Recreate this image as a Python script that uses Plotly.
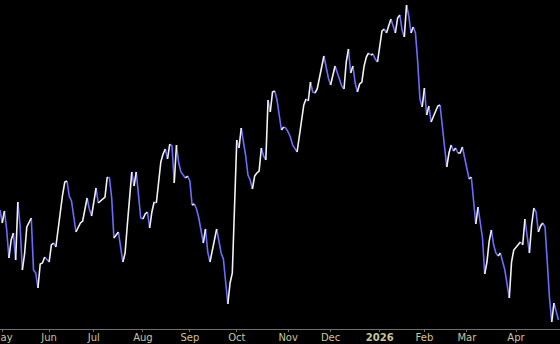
import pandas as pd
import plotly.graph_objects as go

# ---- data ----
start_date = "2025-04-30"
end_date = "2026-04-29"
holidays = ["2025-05-26", "2025-06-19", "2025-07-04", "2025-09-01", "2025-11-27",
            "2025-12-25", "2026-01-01", "2026-01-19", "2026-02-16", "2026-04-03"]

values = [
    190, 177, 189, 170, 142, 160, 167, 140, 198, 174,
    130, 146, 173, 177, 182, 130, 127, 112, 136, 137,
    143, 140, 138, 155, 157, 153, 171, 190, 205, 218,
    219, 204, 199, 184, 168, 173, 177, 179, 191, 202,
    191, 184, 199, 212, 197, 199, 201, 203, 223, 222,
    202, 162, 165, 168, 154, 138, 147, 175, 202, 228,
    214, 228, 205, 182, 181, 186, 188, 172, 188, 198,
    197, 218, 238, 246, 251, 241, 256, 254, 217, 255,
    237, 228, 225, 222, 224, 219, 195, 196, 191, 182,
    170, 157, 171, 148, 138, 148, 160, 171, 158, 147,
    141, 120, 96, 117, 127, 187, 260, 252, 272, 258,
    244, 225, 220, 211, 224, 227, 229, 252, 244, 240,
    300, 288, 308, 309, 300, 285, 270, 273, 272, 268,
    263, 255, 251, 248, 263, 280, 295, 301, 299, 318,
    308, 307, 311, 322, 332, 344, 331, 322, 315, 325,
    334, 327, 320, 314, 311, 338, 351, 327, 334, 317,
    308, 316, 318, 334, 343, 347, 345, 346, 341, 338,
    354, 369, 371, 367, 373, 381, 374, 367, 382, 385,
    370, 363, 395, 384, 367, 373, 367, 338, 301, 293,
    312, 285, 294, 278, 283, 289, 294, 295, 274, 260,
    233, 247, 255, 249, 252, 247, 247, 253, 243, 230,
    221, 223, 200, 176, 193, 177, 162, 126, 138, 159,
    170, 155, 147, 144, 147, 137, 130, 116, 102, 138,
    150, 153, 156, 158, 155, 181, 162, 147, 175, 192,
    188, 168, 174, 177, 173, 138, 102, 78, 97, 88,
    80,
]

month_names = ["May", "Jun", "Jul", "Aug", "Sep", "Oct", "Nov", "Dec",
               "<b>2026</b>", "Feb", "Mar", "Apr"]

up_color = "#f2f2f2"
down_color = "#6c6cff"

# ---- build trading-day axis ----
days = pd.bdate_range(start_date, end_date)
days = days[~days.isin(pd.to_datetime(holidays))]
n = min(len(days), len(values))
days = days[:n]
vals = values[:n]
idx = list(range(n))

# first trading day of each month -> tick positions
tickvals = []
seen = set()
for i, d in enumerate(days):
    key = (d.year, d.month)
    if key not in seen:
        seen.add(key)
        if d.day <= 7:
            tickvals.append(i)
ticktext = month_names[:len(tickvals)]

# split into rising / falling segments
def segments(rising):
    xs, ys = [], []
    prev_in = False
    for i in range(n - 1):
        r = vals[i + 1] >= vals[i]
        if r == rising:
            if not prev_in:
                xs.append(idx[i]); ys.append(vals[i])
            xs.append(idx[i + 1]); ys.append(vals[i + 1])
            prev_in = True
        else:
            if prev_in:
                xs.append(None); ys.append(None)
            prev_in = False
    return xs, ys

ux, uy = segments(True)
dx, dy = segments(False)

fig = go.Figure()
fig.add_trace(go.Scatter(x=dx, y=dy, mode="lines",
                         line=dict(color=down_color, width=1.6),
                         hoverinfo="skip", connectgaps=False))
fig.add_trace(go.Scatter(x=ux, y=uy, mode="lines",
                         line=dict(color=up_color, width=1.6),
                         hoverinfo="skip", connectgaps=False))

fig.update_layout(
    width=560, height=344,
    margin=dict(l=0, r=0, t=0, b=15, autoexpand=False),
    paper_bgcolor="black", plot_bgcolor="black",
    showlegend=False,
    xaxis=dict(
        range=[0, 250.7],
        automargin=False,
        tickmode="array", tickvals=tickvals, ticktext=ticktext,
        ticklabeloverflow="allow",
        ticklabelstandoff=-3,
        showgrid=False, zeroline=False,
        showline=True, linecolor="#707070", linewidth=1,
        ticks="outside", ticklen=2, tickcolor="#707070", tickwidth=1,
        tickfont=dict(family="DejaVu Sans", size=10, color="#c8c49a"),
        fixedrange=True,
    ),
    yaxis=dict(
        range=[71, 400],
        automargin=False,
        showgrid=False, zeroline=False, showline=False,
        showticklabels=False, ticks="",
        fixedrange=True,
    ),
)

fig.write_html("out.html", config={"displayModeBar": False})
